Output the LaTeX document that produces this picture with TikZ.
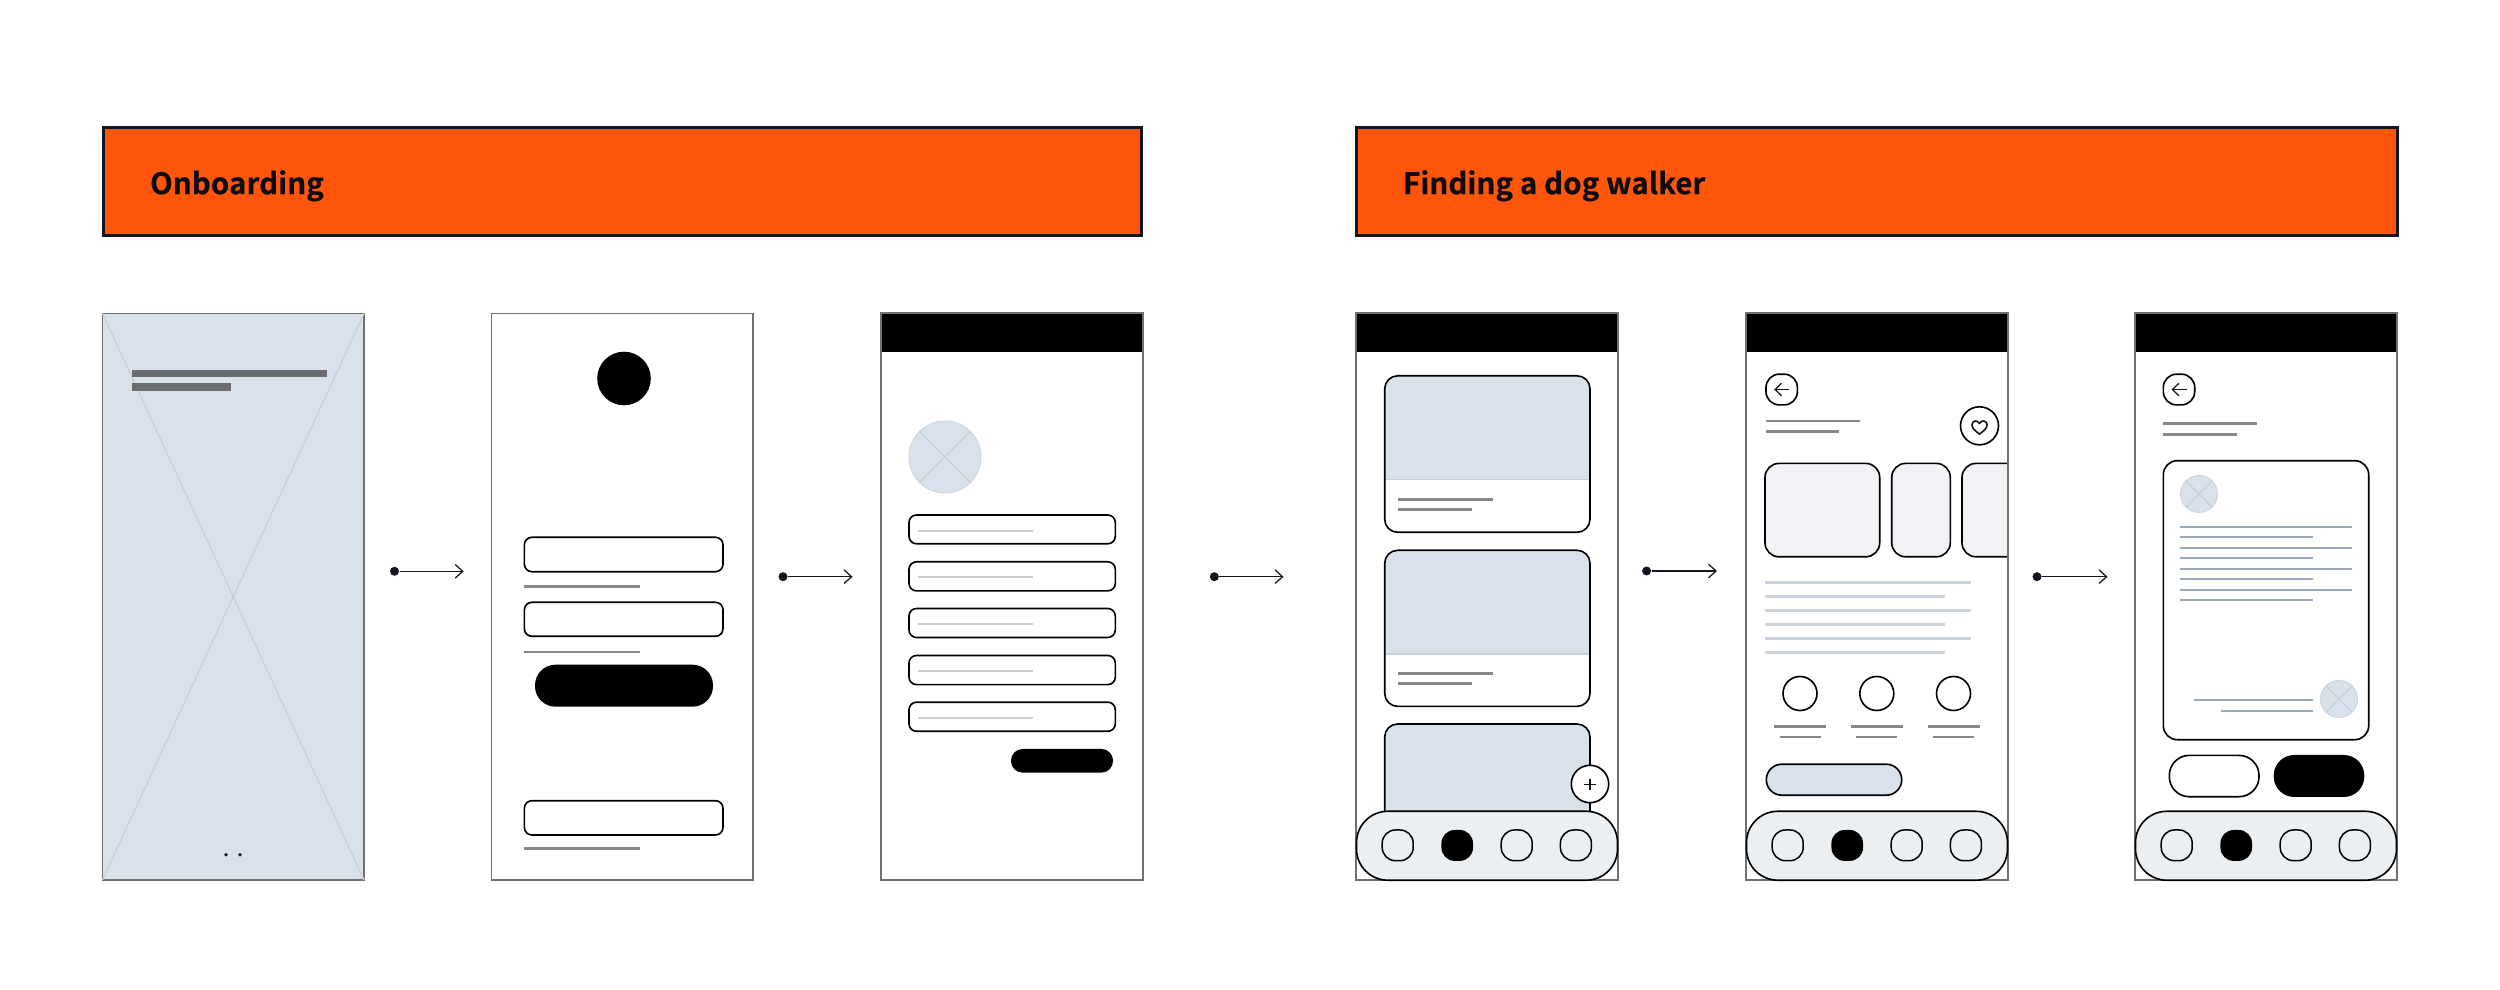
\documentclass[tikz,border=0pt]{standalone}
\usepackage{fontspec}
\newfontfamily\headfont[BoldFont={Noto Sans CJK JP Bold},BoldFeatures={FakeBold=0.25}]{Noto Sans CJK JP}
\usetikzlibrary{arrows.meta}
\definecolor{bannerorange}{HTML}{FF560C}
\definecolor{ink}{HTML}{14161F}
\definecolor{headink}{HTML}{0C0C12}
\definecolor{frameg}{HTML}{707070}
\definecolor{barg}{HTML}{888888}
\definecolor{wash}{HTML}{D9E1EA}
\definecolor{washx}{HTML}{C8CFD9}
\definecolor{navbg}{HTML}{EBEFF2}
\definecolor{thumbbg}{HTML}{F0F2F5}
\definecolor{paleline}{HTML}{CCD3DC}
\definecolor{blueline}{HTML}{9AA8BD}
\definecolor{inputline}{HTML}{CCCCCC}
\tikzset{
  banner/.style={draw=ink,fill=bannerorange,line width=1.2pt},
  bannertext/.style={anchor=base west,inner sep=0pt,text=headink,font=\headfont\bfseries\fontsize{11.85}{14}\selectfont},
  frame/.style={draw=frameg,line width=0.55pt,fill=white},
  outline/.style={draw=black,line width=0.65pt},
  inputbox/.style={outline,fill=white,rounded corners=3pt},
  graybar/.style={draw=barg,line width=1.1pt},
  thinbar/.style={draw=barg,line width=1.2pt},
  paleb/.style={draw=paleline,line width=1.2pt},
  blueb/.style={draw=blueline,line width=0.8pt},
  inputb/.style={draw=inputline,line width=0.8pt},
  flowdot/.style={circle,fill=ink,inner sep=0pt,minimum size=3.6pt},
  flow/.style={draw=ink,line width=0.5pt,-{Straight Barb[length=3pt,width=5.4pt,line width=0.5pt]}},
  xline/.style={draw=washx,line width=0.5pt},
  navbtn/.style={outline,line width=0.6pt,fill=navbg,rounded corners=5.3pt},
  iconline/.style={draw=ink,line width=0.55pt},
}
\newcommand{\headerbar}[1]{%
  \fill[black] (#1,313) rectangle ++(262,39);
  \draw[frameg,line width=0.55pt] (#1,313) rectangle ++(262,567.5);
}
\newcommand{\navbar}[1]{%
  \begin{scope}[shift={(#1,0)}]
    \draw[outline,fill=navbg,rounded corners=12.5pt] (0.5,811.3) rectangle (261.5,880.2);
    \foreach \c/\s in {41.7/navbtn,160.7/navbtn,219.9/navbtn}{
      \draw[\s] (\c-15.5,830) rectangle (\c+15.5,860.7);
    }
    \fill[black,rounded corners=5.3pt] (101.2-15.8,830) rectangle (101.2+15.8,860.9);
  \end{scope}
}
\newcommand{\photocard}[3]{% top, split, bottom
  \begin{scope}
    \clip[rounded corners=5.2pt] (1384.7,#1) rectangle (1590,#3);
    \fill[white] (1384.7,#1) rectangle (1590,#3);
    \fill[wash] (1384.7,#1) rectangle (1590,#2);
    \draw[xline] (1384.7,#2) -- (1590,#2);
  \end{scope}
  \draw[outline,rounded corners=5.2pt] (1384.7,#1) rectangle (1590,#3);
}
\newcommand{\xavatar}[3]{% cx, cy, r
  \fill[wash,draw=washx!60!wash,line width=0.4pt] (#1,#2) circle [radius=#3];
  \draw[xline] (#1-0.72*#3,#2-0.72*#3) -- (#1+0.72*#3,#2+0.72*#3);
  \draw[xline] (#1-0.72*#3,#2+0.72*#3) -- (#1+0.72*#3,#2-0.72*#3);
}
\newcommand{\backbtn}[1]{%
  \draw[outline,fill=white,rounded corners=5.3pt] (#1-15.7,374.2) rectangle (#1+15.7,404.9);
  \draw[iconline,-{Straight Barb[length=2.6pt,width=5pt,line width=0.5pt]}] (#1+7.5,389.5) -- (#1-7.5,389.5);
}
\begin{document}
\begin{tikzpicture}[x=0.4pt,y=-0.4pt]
\useasboundingbox (0,0) rectangle (2500,990);
\fill[white] (0,0) rectangle (2500,990);

% banners
\draw[banner] (103.5,127.5) rectangle (1141,235.2);
\draw[banner] (1356,127.5) rectangle (2397,235.2);
\node[bannertext] (onboarding) at (149.5,194.2) {Onboarding};
\node[bannertext] (finding) at (1402.5,194.2) {Finding a dog walker};

% screen 1
\draw[frame,fill=wash] (102.5,313.5) rectangle (364,880);
\draw[xline] (102.5,313.5) -- (364,880);
\draw[xline] (364,313.5) -- (102.5,880);
\fill[black!55!wash!70!gray] (131.5,369.7) rectangle (327,377.3);
\fill[black!55!wash!70!gray] (131.5,383) rectangle (230.6,390.7);
\fill[ink] (226,854.7) circle [radius=1.9];
\fill[ink] (240,854.7) circle [radius=1.9];

% screen 2
\draw[frame] (491.5,313.5) rectangle (753,880);
\fill[black] (624,378.5) circle [radius=26.8];
\draw[inputbox] (524.4,537.3) rectangle (723,571.7);
\draw[graybar] (524.4,586.7) -- (640,586.7);
\draw[inputbox] (524.4,602.3) rectangle (723,636.3);
\draw[graybar] (524.4,652) -- (640,652);
\fill[black,rounded corners=8.2pt] (535,664.7) rectangle (713,706.7);
\draw[inputbox] (524.4,800.7) rectangle (723,835);
\draw[graybar] (524.4,848.3) -- (640,848.3);

% screen 3
\draw[frame] (881,313.5) rectangle (1143,880);
\headerbar{881}
\xavatar{945}{457}{36}
\foreach \t/\b/\l in {515/543.8/530.8,561.8/590.9/577.5,608.5/637.5/624.5,655.5/684.6/671.2,702.2/731.3/718.3}{
  \draw[inputbox] (909,\t) rectangle (1115.3,\b);
  \draw[inputb] (918,\l) -- (1033.3,\l);
}
\fill[black,rounded corners=4.6pt] (1011,749) rectangle (1113,772.6);

% screen 4
\draw[frame] (1356,313.5) rectangle (1618,880);
\headerbar{1356}
\photocard{375.8}{479.5}{532.3}
\draw[thinbar] (1398,499.4) -- (1492.7,499.4);
\draw[thinbar] (1398,509.7) -- (1471.7,509.7);
\photocard{550.3}{654}{706.4}
\draw[thinbar] (1398,673.5) -- (1492.7,673.5);
\draw[thinbar] (1398,683.8) -- (1471.7,683.8);
\photocard{724}{850}{860}
\navbar{1356}
\draw[outline,fill=white] (1590,784) circle [radius=18.7];
\draw[iconline] (1584.3,784.3) -- (1595.7,784.3);
\draw[iconline] (1590,778.6) -- (1590,790);

% screen 5
\draw[frame] (1746,313.5) rectangle (2007.5,880);
\headerbar{1746}
\backbtn{1781.7}
\draw[graybar] (1766,421) -- (1860.3,421);
\draw[graybar] (1766,431.7) -- (1839.3,431.7);
\draw[outline,fill=white] (1979.5,425.8) circle [radius=19];
\draw[iconline,line width=0.65pt,line join=round] (1979.5,434.2)
  .. controls (1975,430.5) and (1972,428.5) .. (1972,424.8)
  .. controls (1972,420.5) and (1977.5,419.5) .. (1979.5,423.5)
  .. controls (1981.5,419.5) and (1987,420.5) .. (1987,424.8)
  .. controls (1987,428.5) and (1984,430.5) .. (1979.5,434.2) -- cycle;
\begin{scope}
  \clip (1746,440) rectangle (2007.5,600);
  \draw[outline,fill=thumbbg,rounded corners=5.6pt] (1765,463.4) rectangle (1879.7,556.8);
  \draw[outline,fill=thumbbg,rounded corners=5.6pt] (1891.7,463.4) rectangle (1950.3,556.8);
  \draw[outline,fill=thumbbg,rounded corners=5.6pt] (1962,463.4) rectangle (2040,556.8);
\end{scope}
\draw[frameg,line width=0.55pt] (2007.5,440) -- (2007.5,600);
\foreach \y/\e in {582.4/1970.7,596.6/1944.7,610.8/1970.7,624.5/1944.7,638.7/1970.7,652.5/1944.7}{
  \draw[paleb] (1764.7,\y) -- (\e,\y);
}
\foreach \c in {1800,1876.8,1953.5}{
  \draw[outline] (\c,693.5) circle [radius=17];
  \draw[graybar] (\c-26,726.7) -- (\c+26,726.7);
  \draw[graybar] (\c-20.5,737) -- (\c+20.5,737);
}
\draw[outline,fill=wash,rounded corners=6.2pt] (1766.3,764.2) rectangle (1901.7,795.2);
\navbar{1746}

% screen 6
\draw[frame] (2135,313.5) rectangle (2397,880);
\headerbar{2135}
\backbtn{2179}
\draw[graybar] (2163,423.6) -- (2257.3,423.6);
\draw[graybar] (2163,434.3) -- (2236.7,434.3);
\draw[outline,fill=white,rounded corners=5.6pt] (2163.3,460.7) rectangle (2368.7,739.7);
\xavatar{2199}{494}{18.5}
\foreach \y/\e in {527/2352,537.3/2313.3,548/2352,558.3/2313.3,568.7/2352,579.4/2313.3,589.7/2352,600.4/2313.3}{
  \draw[blueb] (2180.3,\y) -- (\e,\y);
}
\draw[blueb] (2194,700) -- (2313.3,700);
\draw[blueb] (2220.7,710.6) -- (2313.3,710.6);
\xavatar{2339}{699}{18.5}
\draw[outline,fill=white,rounded corners=8pt] (2169.3,755.4) rectangle (2259,796.7);
\fill[black,rounded corners=8.2pt] (2273.7,755) rectangle (2364.3,797);
\navbar{2135}

% connectors
\node[flowdot] (d1) at (394.5,571.3) {};
\coordinate (e1) at (463.7,571.3);
\draw[flow] (d1) -- (e1);
\node[flowdot] (d2) at (783,576.7) {};
\coordinate (e2) at (852.5,576.7);
\draw[flow] (d2) -- (e2);
\node[flowdot] (d3) at (1214.3,576.7) {};
\coordinate (e3) at (1283.5,576.7);
\draw[flow] (d3) -- (e3);
\node[flowdot] (d4) at (1646.6,571) {};
\coordinate (e4) at (1717,571);
\draw[flow] (d4) -- (e4);
\node[flowdot] (d5) at (2037,576.7) {};
\coordinate (e5) at (2107.5,576.7);
\draw[flow] (d5) -- (e5);
\end{tikzpicture}
\end{document}
